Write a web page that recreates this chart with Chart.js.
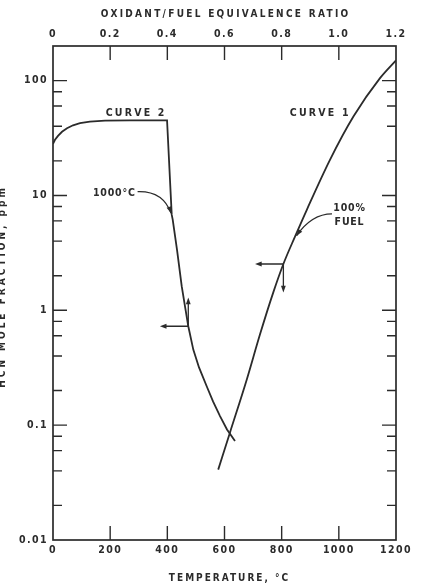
<!DOCTYPE html>
<html>
<head>
<meta charset="utf-8">
<script src="https://cdn.jsdelivr.net/npm/chart.js@4.4.1/dist/chart.umd.min.js"></script>
<style>
  html, body { margin: 0; padding: 0; background: #fff; }
  #wrap { width: 423px; height: 585px; }
</style>
</head>
<body>
<div id="wrap"><canvas id="hcn-chart" width="423" height="585"></canvas></div>
<script>
// Curve 1: 100% fuel, plotted against temperature (bottom axis)
var curve1Temp = [578, 619, 678, 724, 771, 806, 847, 888, 969, 1051, 1144, 1200];
var curve1Hcn  = [0.041, 0.086, 0.25, 0.615, 1.44, 2.53, 4.4, 7.5, 20.4, 48.6, 105, 150];

// Curve 2: 1000 C, plotted against oxidant/fuel equivalence ratio (top axis)
var curve2Ratio = [0, 0.007, 0.0175, 0.0315, 0.049, 0.070, 0.0945, 0.129, 0.182, 0.269, 0.399,
                   0.4153, 0.4188, 0.4338, 0.4503, 0.4618, 0.4733, 0.4908, 0.5108, 0.5377, 0.5598, 0.5843, 0.6087, 0.6367];
var curve2Hcn   = [28.2, 30.5, 33.0, 35.8, 38.4, 40.8, 42.6, 44.0, 44.8, 45.1, 45.1,
                   6.80, 6.15, 3.37, 1.62, 1.08, 0.726, 0.455, 0.318, 0.218, 0.161, 0.120, 0.0918, 0.0726];

// axis ticks
var tempTicks = [0, 200, 400, 600, 800, 1000, 1200];
var ratioTicks = [0, 0.2, 0.4, 0.6, 0.8, 1.0, 1.2];
var hcnDecades = [0.01, 0.1, 1, 10, 100];
var hcnMinor = [2, 4, 6, 8];

var FONT = "'DejaVu Sans Condensed', 'Liberation Sans Narrow', 'Liberation Sans', sans-serif";
var INK = '#2b2b2b';

function toPoints(xs, ys) {
    return xs.map(function (x, i) { return { x: x, y: ys[i] }; });
}

function arrowHead(ctx, x1, y1, x2, y2, size) {
    var a = Math.atan2(y2 - y1, x2 - x1);
    ctx.beginPath();
    ctx.moveTo(x2, y2);
    ctx.lineTo(x2 - size * Math.cos(a - 0.35), y2 - size * Math.sin(a - 0.35));
    ctx.lineTo(x2 - size * Math.cos(a + 0.35), y2 - size * Math.sin(a + 0.35));
    ctx.closePath();
    ctx.fill();
}

function spacedText(ctx, text, x, y, spacing, align) {
    ctx.letterSpacing = spacing + 'px';
    var w = ctx.measureText(text).width;
    var sx = align === 'center' ? x - w / 2 + spacing / 2 : x;
    ctx.textAlign = 'left';
    ctx.fillText(text, sx, y);
}

var spacingPlugin = {
    id: 'spacing',
    beforeDraw: function (chart) { chart.ctx.letterSpacing = '1.4px'; }
};

var decorPlugin = {
    id: 'decor',
    afterDraw: function (chart) {
        var ctx = chart.ctx;
        var a = chart.chartArea;
        var X = chart.scales.x, X2 = chart.scales.x2, Y = chart.scales.y;
        ctx.save();
        ctx.strokeStyle = INK;
        ctx.fillStyle = INK;

        // frame
        ctx.lineWidth = 1.7;
        ctx.strokeRect(a.left, a.top, a.right - a.left, a.bottom - a.top);

        // inside ticks
        ctx.lineWidth = 1.4;
        ctx.beginPath();
        hcnDecades.forEach(function (d) {
            var py = Y.getPixelForValue(d);
            if (d > 0.01) {
                ctx.moveTo(a.left, py); ctx.lineTo(a.left + 14, py);
                ctx.moveTo(a.right, py); ctx.lineTo(a.right - 14, py);
            }
            hcnMinor.forEach(function (m) {
                var v = d * m;
                if (v >= 200) return;
                var pm = Y.getPixelForValue(v);
                ctx.moveTo(a.left, pm); ctx.lineTo(a.left + 9, pm);
                ctx.moveTo(a.right, pm); ctx.lineTo(a.right - 9, pm);
            });
        });
        tempTicks.slice(1, -1).forEach(function (t) {
            var px = X.getPixelForValue(t);
            ctx.moveTo(px, a.bottom); ctx.lineTo(px, a.bottom - 14);
        });
        ratioTicks.slice(1, -1).forEach(function (r) {
            var px = X2.getPixelForValue(r);
            ctx.moveTo(px, a.top); ctx.lineTo(px, a.top + 14);
        });
        ctx.stroke();

        // axis titles
        ctx.font = '600 10px ' + FONT;
        ctx.textBaseline = 'middle';
        spacedText(ctx, 'OXIDANT/FUEL EQUIVALENCE RATIO', (a.left + a.right) / 2, 14, 2.3, 'center');
        spacedText(ctx, 'TEMPERATURE, \u00B0C', (a.left + a.right) / 2 + 4, 578, 2.0, 'center');
        ctx.save();
        ctx.translate(2, 288);
        ctx.rotate(-Math.PI / 2);
        spacedText(ctx, 'HCN MOLE FRACTION, ppm', 0, 0, 3, 'center');
        ctx.restore();

        // curve labels
        ctx.font = '600 10.5px ' + FONT;
        spacedText(ctx, 'CURVE 2', X.getPixelForValue(287), Y.getPixelForValue(52), 2.2, 'center');
        spacedText(ctx, 'CURVE 1', X.getPixelForValue(931), Y.getPixelForValue(52), 2.2, 'center');
        spacedText(ctx, '1000\u00B0C', X.getPixelForValue(213), Y.getPixelForValue(10.5), 0.8, 'center');
        spacedText(ctx, '100%', X.getPixelForValue(1036), Y.getPixelForValue(7.8), 0.8, 'center');
        spacedText(ctx, 'FUEL', X.getPixelForValue(1036), Y.getPixelForValue(5.8), 0.8, 'center');

        // curved pointer arrows
        ctx.lineWidth = 1.2;
        var s1 = [X.getPixelForValue(296), Y.getPixelForValue(10.8)];
        var c1 = [X.getPixelForValue(385), Y.getPixelForValue(11)];
        var e1 = [X2.getPixelForValue(0.413), Y.getPixelForValue(7.0)];
        ctx.beginPath();
        ctx.moveTo(s1[0], s1[1]);
        ctx.quadraticCurveTo(c1[0], c1[1], e1[0], e1[1]);
        ctx.stroke();
        arrowHead(ctx, c1[0], c1[1], e1[0], e1[1], 7);

        var s2 = [X.getPixelForValue(976), Y.getPixelForValue(6.9)];
        var c2 = [X.getPixelForValue(905), Y.getPixelForValue(6.9)];
        var e2 = [X.getPixelForValue(852), Y.getPixelForValue(4.45)];
        ctx.beginPath();
        ctx.moveTo(s2[0], s2[1]);
        ctx.quadraticCurveTo(c2[0], c2[1], e2[0], e2[1]);
        ctx.stroke();
        arrowHead(ctx, c2[0], c2[1], e2[0], e2[1], 7);

        // axis-direction arrows
        ctx.lineWidth = 1.3;
        var j2 = [X2.getPixelForValue(0.4733), Y.getPixelForValue(0.726)];
        var l2 = X2.getPixelForValue(0.374);
        var u2 = Y.getPixelForValue(1.29);
        ctx.beginPath();
        ctx.moveTo(j2[0], j2[1]); ctx.lineTo(l2 + 4, j2[1]);
        ctx.moveTo(j2[0], j2[1]); ctx.lineTo(j2[0], u2 + 4);
        ctx.stroke();
        arrowHead(ctx, j2[0], j2[1], l2, j2[1], 7);
        arrowHead(ctx, j2[0], j2[1], j2[0], u2, 7);

        var j1 = [X.getPixelForValue(806), Y.getPixelForValue(2.53)];
        var l1 = X.getPixelForValue(707);
        var d1 = Y.getPixelForValue(1.43);
        ctx.beginPath();
        ctx.moveTo(j1[0], j1[1]); ctx.lineTo(l1 + 4, j1[1]);
        ctx.moveTo(j1[0], j1[1]); ctx.lineTo(j1[0], d1 - 4);
        ctx.stroke();
        arrowHead(ctx, j1[0], j1[1], l1, j1[1], 7);
        arrowHead(ctx, j1[0], j1[1], j1[0], d1, 7);

        ctx.restore();
    }
};

var tickFont = { family: FONT, size: 10.5, weight: '600' };

new Chart(document.getElementById('hcn-chart'), {
    type: 'line',
    data: {
        datasets: [{
            label: 'Curve 1',
            data: toPoints(curve1Temp, curve1Hcn),
            xAxisID: 'x',
            yAxisID: 'y',
            borderColor: INK,
            borderWidth: 1.8,
            pointRadius: 0,
            fill: false,
            cubicInterpolationMode: 'monotone'
        }, {
            label: 'Curve 2',
            data: toPoints(curve2Ratio, curve2Hcn),
            xAxisID: 'x2',
            yAxisID: 'y',
            borderColor: INK,
            borderWidth: 1.8,
            pointRadius: 0,
            fill: false,
            tension: 0
        }]
    },
    options: {
        responsive: false,
        animation: false,
        events: [],
        layout: { padding: 0 },
        plugins: {
            legend: { display: false },
            tooltip: { enabled: false }
        },
        scales: {
            x: {
                type: 'linear',
                position: 'bottom',
                min: 0, max: 1200,
                afterBuildTicks: function (s) { s.ticks = tempTicks.map(function (v) { return { value: v }; }); },
                afterFit: function (s) { s.height = 45; },
                grid: { display: false, drawTicks: false },
                border: { display: false },
                ticks: {
                    color: INK, font: tickFont, padding: 4, maxRotation: 0,
                    callback: function (v) { return String(v); }
                }
            },
            x2: {
                type: 'linear',
                position: 'top',
                min: 0, max: 1.2,
                afterBuildTicks: function (s) { s.ticks = ratioTicks.map(function (v) { return { value: v }; }); },
                afterFit: function (s) { s.height = 46; },
                grid: { display: false, drawTicks: false },
                border: { display: false },
                ticks: {
                    color: INK, font: tickFont, padding: 5, maxRotation: 0,
                    callback: function (v) { return v === 0 ? '0' : v.toFixed(1); }
                }
            },
            y: {
                type: 'logarithmic',
                position: 'left',
                min: 0.01, max: 200,
                afterBuildTicks: function (s) { s.ticks = hcnDecades.map(function (v) { return { value: v }; }); },
                afterFit: function (s) { s.width = 53; },
                grid: { display: false, drawTicks: false },
                border: { display: false },
                ticks: {
                    color: INK, font: tickFont, padding: 5,
                    callback: function (v) { return String(v); }
                }
            },
            y2: {
                type: 'logarithmic',
                position: 'right',
                min: 0.01, max: 200,
                afterFit: function (s) { s.width = 27; },
                grid: { display: false, drawTicks: false },
                border: { display: false },
                ticks: { display: false }
            }
        }
    },
    plugins: [spacingPlugin, decorPlugin]
});
</script>
</body>
</html>
